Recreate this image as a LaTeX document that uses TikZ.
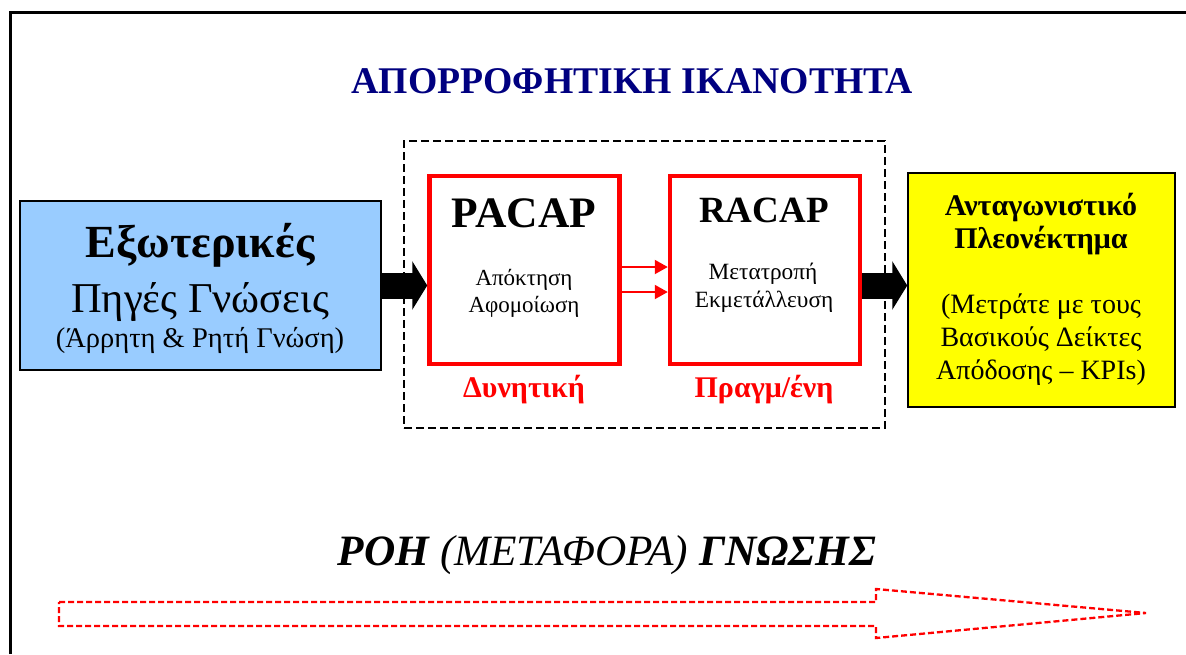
\documentclass[tikz,border=0pt]{standalone}
\usepackage{fontspec}
\setmainfont{Liberation Serif}
\usetikzlibrary{arrows.meta}

\definecolor{titlenavy}{HTML}{000080}
\definecolor{skyfill}{HTML}{99CCFF}
\definecolor{goldfill}{HTML}{FFFF00}
\definecolor{capred}{HTML}{FF0000}

\newcommand{\fsz}[1]{\fontsize{#1}{#1}\selectfont}

\begin{document}
\begin{tikzpicture}[x=1pt,y=-1pt,
  txt/.style={anchor=base,inner sep=0pt,outer sep=0pt},
  plainbox/.style={draw=black,line width=1.5pt,inner sep=0pt},
  capbox/.style={draw=capred,line width=4.5pt,fill=white,inner sep=0pt,
                 minimum width=190pt,minimum height=188pt},
  blockarrow/.style={line width=26pt,-{Triangle[length=15pt,width=48pt]}},
  thinred/.style={draw=capred,line width=2pt,-{Triangle[length=13pt,width=14pt]}},
  flowarrow/.style={draw=capred,line width=2.3pt,dash pattern=on 6pt off 3pt}
]
\useasboundingbox (0,0) rectangle (1186,654);

% page frame (continues past the right and bottom edges)
\draw[line width=2.5pt] (10.5,654) -- (10.5,12.5) -- (1186,12.5);

% heading
\node[txt,text=titlenavy,font=\fsz{37.7}\bfseries] (title) at (632,93)
  {ΑΠΟΡΡΟΦΗΤΙΚΗ ΙΚΑΝΟΤΗΤΑ};

% dashed frame around the two capacities
\node[draw=black,line width=1.5pt,dash pattern=on 8pt off 4pt,
      minimum width=481pt,minimum height=287pt,inner sep=0pt] (acap) at (644.5,284.5) {};

% external knowledge sources
\node[plainbox,fill=skyfill,minimum width=361pt,minimum height=169pt] (src) at (200.5,285.5) {};
\node[txt,font=\fsz{46}\bfseries] (srcA) at (200,257) {Εξωτερικές};
\node[txt,font=\fsz{42.5}] (srcB) at (200,312) {Πηγές Γνώσεις};
\node[txt,font=\fsz{28.5}] (srcC) at (200,347) {(Άρρητη \& Ρητή Γνώση)};

% potential absorptive capacity
\node[capbox] (pacap) at (524.5,270) {};
\node[txt,font=\fsz{43.5}\bfseries] (pacapT) at (524,227) {PACAP};
\node[txt,font=\fsz{23}] (pacapA) at (524,285) {Απόκτηση};
\node[txt,font=\fsz{23}] (pacapB) at (524,312) {Αφομοίωση};
\node[txt,font=\fsz{30}\bfseries,text=capred] (pacapL) at (524,397) {Δυνητική};

% realized absorptive capacity
\node[capbox] (racap) at (765,270) {};
\node[txt,font=\fsz{37}\bfseries] (racapT) at (764,222) {RACAP};
\node[txt,font=\fsz{23.3}] (racapA) at (763,279) {Μετατροπή};
\node[txt,font=\fsz{23.3}] (racapB) at (764,307) {Εκμετάλλευση};
\node[txt,font=\fsz{30}\bfseries,text=capred] (racapL) at (764,397) {Πραγμ/ένη};

% competitive advantage
\node[plainbox,fill=goldfill,minimum width=267pt,minimum height=234pt] (adv) at (1041.5,290) {};
\node[txt,font=\fsz{30}\bfseries] (advA) at (1041,215) {Ανταγωνιστικό};
\node[txt,font=\fsz{30}\bfseries] (advB) at (1041,248) {Πλεονέκτημα};
\node[txt,font=\fsz{28}] (advC) at (1041,313) {(Μετράτε με τους};
\node[txt,font=\fsz{28}] (advD) at (1041,346) {Βασικούς Δείκτες};
\node[txt,font=\fsz{28}] (advE) at (1041,379) {Απόδοσης – KPIs)};

% connectors
\draw[blockarrow] (src.east) -- (src.east -| pacap.west);
\draw[blockarrow] (racap.east |- src.east) -- (adv.west |- src.east);
\draw[thinred] ([yshift=3pt]pacap.east) -- ([yshift=3pt]pacap.east -| racap.west);
\draw[thinred] ([yshift=-22pt]pacap.east) -- ([yshift=-22pt]pacap.east -| racap.west);

% knowledge flow
\node[txt,font=\fsz{43.3}\itshape] (flow) at (607,565)
  {\textbf{ΡΟΗ} (ΜΕΤΑΦΟΡΑ) \textbf{ΓΝΩΣΗΣ}};
\draw[flowarrow] (59,602) -- (876,602) -- (876,589) -- (1146,613)
  -- (876,638) -- (876,626) -- (59,626) -- cycle;
\end{tikzpicture}
\end{document}
